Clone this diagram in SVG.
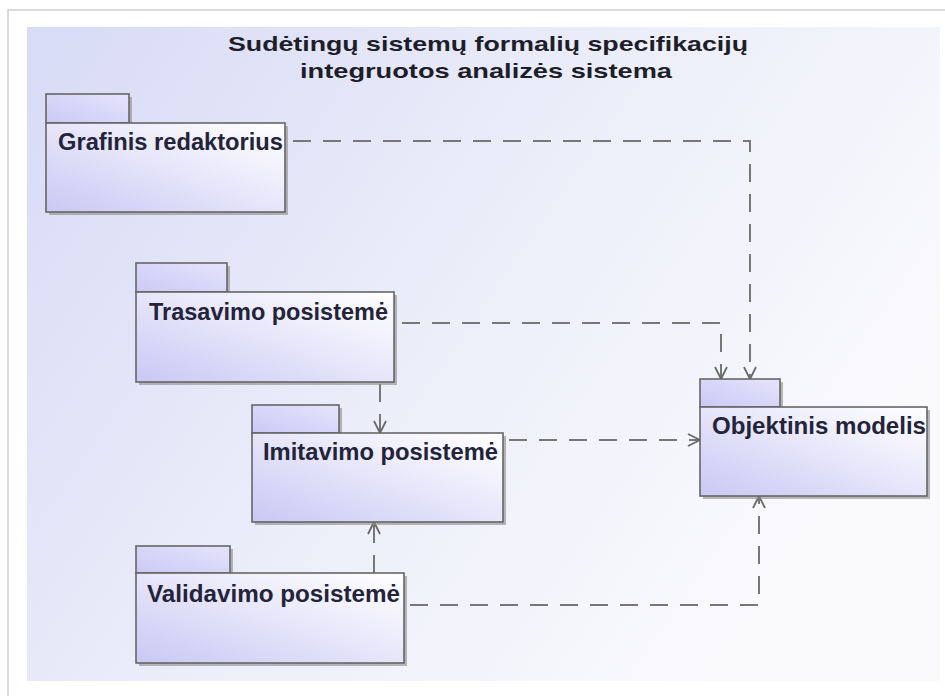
<svg xmlns="http://www.w3.org/2000/svg" width="945" height="696" viewBox="0 0 945 696">
<defs>
<linearGradient id="bg" x1="0" y1="0" x2="1" y2="0.5">
<stop offset="0" stop-color="#d7dbf6"/>
<stop offset="0.55" stop-color="#eceef9"/>
<stop offset="1" stop-color="#fafafd"/>
</linearGradient>
<linearGradient id="body" x1="0" y1="1" x2="1" y2="0">
<stop offset="0" stop-color="#c9c8f4"/>
<stop offset="0.6" stop-color="#ecebfb"/>
<stop offset="1" stop-color="#ffffff"/>
</linearGradient>
<linearGradient id="tab" x1="0" y1="1" x2="1" y2="0">
<stop offset="0" stop-color="#cbc9f5"/>
<stop offset="1" stop-color="#e6e4fb"/>
</linearGradient>
<marker id="arr" viewBox="0 0 14 14" refX="13" refY="7" markerWidth="14" markerHeight="14" markerUnits="userSpaceOnUse" orient="auto">
<path d="M1,1 L13,7 L1,13" fill="none" stroke="#6a6a6a" stroke-width="1.8"/>
</marker>
</defs>
<style>
.shadow{fill:#8a8a8a;opacity:0.6}
.tab{fill:url(#tab);stroke:#666;stroke-width:1.6}
.body{fill:url(#body);stroke:#666;stroke-width:1.6}
.lbl{font-family:"Liberation Sans",Arial,sans-serif;font-weight:bold;font-size:23px;fill:#23233a}
.title{font-family:"Liberation Sans",Arial,sans-serif;font-weight:bold;font-size:21px;fill:#1e1e2a}
.dep{fill:none;stroke:#777;stroke-width:2;stroke-dasharray:18 12}
</style>
<rect x="0" y="0" width="945" height="696" fill="#ffffff"/>
<rect x="8" y="10" width="945" height="700" fill="#ffffff" stroke="#d0d0d0" stroke-width="1.5"/>
<rect x="27" y="27" width="913" height="654" fill="url(#bg)"/>
<g id="title">
<text class="title" x="488" y="51" text-anchor="middle" textLength="520" lengthAdjust="spacingAndGlyphs">Sudėtingų sistemų formalių specifikacijų</text>
<text class="title" x="486" y="78" text-anchor="middle" textLength="372" lengthAdjust="spacingAndGlyphs">integruotos analizės sistema</text>
</g>
<g id="connectors">
<path class="dep" d="M293,141 H750 V379" marker-end="url(#arr)"/>
<path class="dep" d="M402,323 H721 V379" marker-end="url(#arr)"/>
<path class="dep" d="M380,384 V433" marker-end="url(#arr)"/>
<path class="dep" d="M509,440 H700" marker-end="url(#arr)"/>
<path class="dep" d="M374,573 V522" marker-end="url(#arr)"/>
<path class="dep" d="M410,605 H759 V496" marker-end="url(#arr)"/>
</g>
<g id="grafinis">
<rect class="shadow" x="49" y="97" width="83" height="29"/>
<rect class="shadow" x="49" y="126" width="239" height="89"/>
<rect class="tab" x="46" y="94" width="83" height="29"/>
<rect class="body" x="46" y="123" width="239" height="89"/>
<text class="lbl" x="58" y="150" textLength="225" lengthAdjust="spacingAndGlyphs">Grafinis redaktorius</text>
</g>
<g id="trasavimo">
<rect class="shadow" x="139" y="266" width="91" height="29"/>
<rect class="shadow" x="139" y="295" width="258" height="90"/>
<rect class="tab" x="136" y="263" width="91" height="29"/>
<rect class="body" x="136" y="292" width="258" height="90"/>
<text class="lbl" x="149" y="320" textLength="239" lengthAdjust="spacingAndGlyphs">Trasavimo posistemė</text>
</g>
<g id="imitavimo">
<rect class="shadow" x="255" y="408" width="87" height="28"/>
<rect class="shadow" x="255" y="436" width="251" height="89"/>
<rect class="tab" x="252" y="405" width="87" height="28"/>
<rect class="body" x="252" y="433" width="251" height="89"/>
<text class="lbl" x="263" y="460" textLength="235" lengthAdjust="spacingAndGlyphs">Imitavimo posistemė</text>
</g>
<g id="validavimo">
<rect class="shadow" x="139" y="549" width="94" height="27"/>
<rect class="shadow" x="139" y="576" width="268" height="90"/>
<rect class="tab" x="136" y="546" width="94" height="27"/>
<rect class="body" x="136" y="573" width="268" height="90"/>
<text class="lbl" x="147" y="602" textLength="253" lengthAdjust="spacingAndGlyphs">Validavimo posistemė</text>
</g>
<g id="objektinis">
<rect class="shadow" x="703" y="382" width="80" height="28"/>
<rect class="shadow" x="703" y="410" width="227" height="89"/>
<rect class="tab" x="700" y="379" width="80" height="28"/>
<rect class="body" x="700" y="407" width="227" height="89"/>
<text class="lbl" x="712" y="434" textLength="214" lengthAdjust="spacingAndGlyphs">Objektinis modelis</text>
</g>
</svg>
